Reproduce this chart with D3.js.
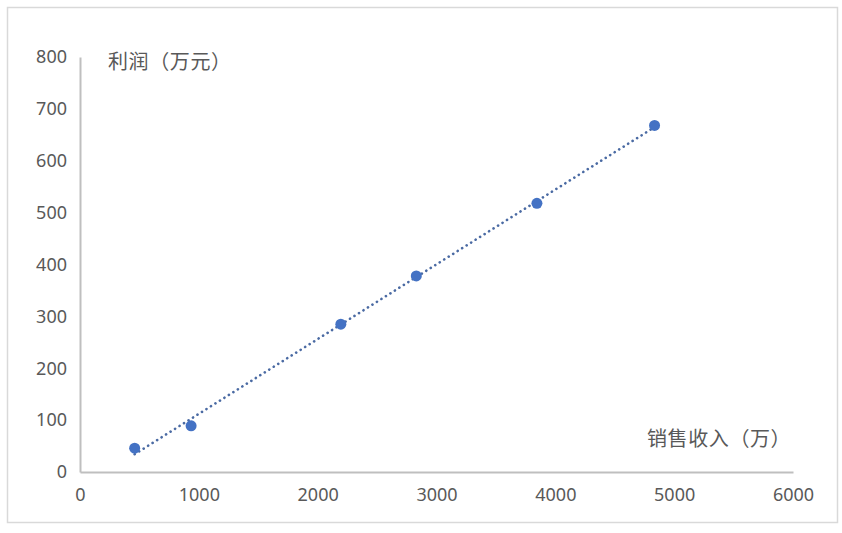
<!DOCTYPE html>
<html><head><meta charset="utf-8">
<script src="https://cdn.jsdelivr.net/npm/d3@7"></script>
<style>
html,body{margin:0;padding:0;background:#fff;}
svg{display:block;font-family:"Noto Sans CJK SC","Noto Sans",sans-serif;}
</style></head>
<body>
<svg id="c" width="842" height="533"></svg>
<script>
// Data
const salesRevenue = [460, 935, 2195, 2830, 3845, 4835];
const profit = [46, 89, 285, 378, 518, 668];
const xTicks = [0, 1000, 2000, 3000, 4000, 5000, 6000];
const yTicks = [0, 100, 200, 300, 400, 500, 600, 700, 800];
const yTitle = "利润（万元）";
const xTitle = "销售收入（万）";

const svg = d3.select("#c");
// outer border
svg.append("rect").attr("x",7.5).attr("y",7.5).attr("width",830).attr("height",515)
  .attr("fill","#fff").attr("stroke","#d9d9d9").attr("stroke-width",1.5);

const x = d3.scaleLinear().domain([0,6000]).range([80,793]);
const y = d3.scaleLinear().domain([0,800]).range([472,57]);
const textColor = "#595959";

// axes
const xAxis = svg.append("g").attr("transform","translate(0,472)")
  .call(d3.axisBottom(x).tickValues(xTicks).tickSize(0).tickPadding(16).tickFormat(d3.format("d")));
const yAxis = svg.append("g").attr("transform","translate(80,0)")
  .call(d3.axisLeft(y).tickValues(yTicks).tickSize(0).tickPadding(13).tickFormat(d3.format("d")));
[xAxis,yAxis].forEach(a=>{
  a.select(".domain").attr("stroke","#bfbfbf").attr("stroke-width",2);
  a.selectAll("text").attr("fill",textColor).attr("font-size",18)
   .attr("font-family",'"Noto Sans","Noto Sans CJK SC",sans-serif');
});
xAxis.selectAll("text").attr("dy","0.71em");

// trendline (least squares)
const mx = d3.mean(salesRevenue), my = d3.mean(profit);
const slope = d3.sum(salesRevenue.map((v,i)=>(v-mx)*(profit[i]-my))) / d3.sum(salesRevenue.map(v=>(v-mx)*(v-mx)));
const icpt = my - slope*mx;
const x0 = d3.min(salesRevenue), x1 = d3.max(salesRevenue);
svg.append("line")
  .attr("x1",x(x0)).attr("y1",y(icpt+slope*x0))
  .attr("x2",x(x1)).attr("y2",y(icpt+slope*x1))
  .attr("stroke","#4a6aa3").attr("stroke-width",2.6)
  .attr("stroke-linecap","round").attr("stroke-dasharray","0.1 5.2");

// points
svg.selectAll("circle.pt").data(salesRevenue).join("circle").attr("class","pt")
  .attr("cx",d=>x(d)).attr("cy",(d,i)=>y(profit[i])).attr("r",5.5)
  .attr("fill","#4472c4");

// axis titles
svg.append("text").attr("x",108).attr("y",62).attr("dy","0.35em")
  .attr("fill",textColor).attr("font-size",20).attr("letter-spacing",0.6).text(yTitle);
svg.append("text").attr("x",647).attr("y",439).attr("dy","0.35em")
  .attr("fill",textColor).attr("font-size",20).attr("letter-spacing",0.6).text(xTitle);
</script>
</body></html>
